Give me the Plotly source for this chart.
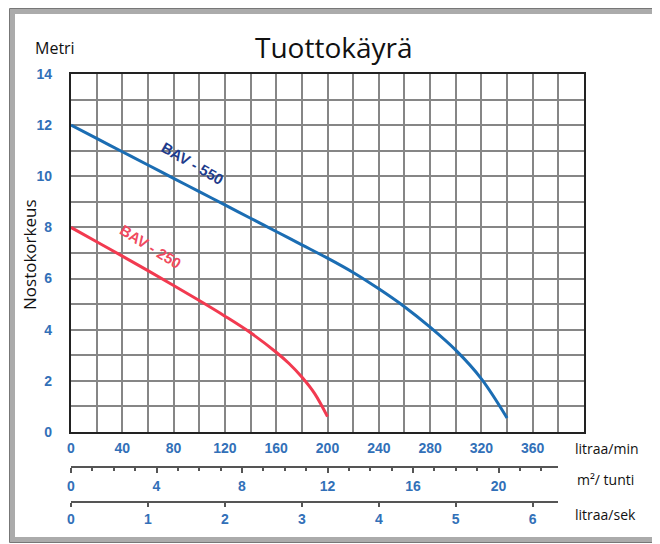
import plotly.graph_objects as go

# ---------------- data ----------------
FLOW_550 = [0, 20, 40, 60, 80, 100, 120, 140, 160, 180, 200, 220, 240, 260, 280, 300, 320, 340]  # litraa/min
HEAD_550 = [12.0, 11.48, 10.96, 10.44, 9.92, 9.40, 8.88, 8.36, 7.84, 7.32, 6.8, 6.24, 5.6, 4.9,
            4.1, 3.2, 2.08, 0.55]                                                                # metri
FLOW_250 = [0, 20, 40, 60, 80, 100, 120, 140, 160, 170, 180, 190, 200]
HEAD_250 = [8.0, 7.44, 6.88, 6.31, 5.73, 5.14, 4.53, 3.88, 3.12, 2.68, 2.15, 1.5, 0.6]

FLOW_RANGE = [0, 400]                       # litraa/min
HEAD_RANGE = [0, 14]                        # metri
FLOW_TICKS = [0, 40, 80, 120, 160, 200, 240, 280, 320, 360]
HEAD_TICKS = [0, 2, 4, 6, 8, 10, 12, 14]
M3H_TICKS = [0, 4, 8, 12, 16, 20]
LS_TICKS = [0, 1, 2, 3, 4, 5, 6]
SCALE_END_FLOW = 380                        # where the secondary scales end (l/min)
M3H_PER_LMIN = 60 / 1000                    # m3/h per l/min
LS_PER_LMIN = 1 / 60                        # l/s per l/min

TITLE = "Tuottokäyrä"
LABEL_550 = "BAV - 550"
LABEL_250 = "BAV - 250"

# ---------------- layout geometry ----------------
# the page body has an 8 px margin, so the figure is drawn from (8, 8)
OFF = 8
W, H = 660 - OFF, 544 - OFF
ML, MR, MT, MB = 71 - OFF, 76, 74 - OFF, 30
PW = W - ML - MR
PH = H - MT - MB


def px(xp):
    return (xp - OFF - ML) / PW


def py(yp):
    return (H - MB - (yp - OFF)) / PH


TICK_BLUE = "#3270b8"
tickfont = dict(family="Liberation Sans", size=14, color=TICK_BLUE, weight="bold")
label_font = dict(family="Open Sans", size=14, color="#111111")
GRID = "#868686"

fig = go.Figure()

fig.add_trace(go.Scatter(
    x=FLOW_550, y=HEAD_550, mode="lines",
    line=dict(color="#1b6db3", width=3, shape="spline", smoothing=1.0),
    hoverinfo="skip", showlegend=False))
fig.add_trace(go.Scatter(
    x=FLOW_250, y=HEAD_250, mode="lines",
    line=dict(color="#f23a50", width=3, shape="spline", smoothing=1.0),
    hoverinfo="skip", showlegend=False))

# invisible helper traces so the secondary scales are drawn
fig.add_trace(go.Scatter(
    x=[f * M3H_PER_LMIN for f in FLOW_550], y=HEAD_550, xaxis="x2", yaxis="y2",
    mode="markers", marker=dict(opacity=0), hoverinfo="skip", showlegend=False))
fig.add_trace(go.Scatter(
    x=[f * LS_PER_LMIN for f in FLOW_550], y=HEAD_550, xaxis="x3", yaxis="y2",
    mode="markers", marker=dict(opacity=0), hoverinfo="skip", showlegend=False))

main_y_bottom = py(432)
scale_dom_end = SCALE_END_FLOW / FLOW_RANGE[1]

fig.update_layout(
    width=W, height=H,
    margin=dict(l=ML, r=MR, t=MT, b=MB, pad=0, autoexpand=False),
    paper_bgcolor="white", plot_bgcolor="white",
    xaxis=dict(
        range=FLOW_RANGE, domain=[0, 1], anchor="y",
        tickmode="array", tickvals=FLOW_TICKS,
        showgrid=True, gridcolor=GRID, gridwidth=1.6,
        minor=dict(dtick=20, tick0=0, showgrid=True, gridcolor=GRID, gridwidth=1.6),
        showline=True, mirror=True, linecolor="#222222", linewidth=2.2,
        zeroline=False, ticks="", tickfont=tickfont, ticklabelstandoff=2,
    ),
    yaxis=dict(
        range=HEAD_RANGE, domain=[main_y_bottom, 1], anchor="x",
        tickmode="array", tickvals=HEAD_TICKS,
        showgrid=True, gridcolor=GRID, gridwidth=1.6,
        minor=dict(dtick=1, tick0=0, showgrid=True, gridcolor=GRID, gridwidth=1.6),
        showline=True, mirror=True, linecolor="#222222", linewidth=2.2,
        zeroline=False, ticks="", tickfont=tickfont, ticklabelstandoff=14,
    ),
    xaxis2=dict(
        range=[0, SCALE_END_FLOW * M3H_PER_LMIN], domain=[0, scale_dom_end],
        anchor="free", position=py(467),
        tickmode="array", tickvals=M3H_TICKS,
        ticks="outside", ticklen=5, tickwidth=2, tickcolor="#555555",
        minor=dict(dtick=1, tick0=0, ticks="outside", ticklen=3, tickwidth=1.5, tickcolor="#555555"),
        showline=True, linecolor="#555555", linewidth=2, showgrid=False, zeroline=False,
        tickfont=tickfont, ticklabelstandoff=1,
    ),
    xaxis3=dict(
        range=[0, SCALE_END_FLOW * LS_PER_LMIN], domain=[0, scale_dom_end],
        anchor="free", position=py(502),
        tickmode="array", tickvals=LS_TICKS,
        ticks="outside", ticklen=4, tickwidth=2, tickcolor="#555555",
        showline=True, linecolor="#555555", linewidth=2, showgrid=False, zeroline=False,
        tickfont=tickfont, ticklabelstandoff=0,
    ),
    yaxis2=dict(domain=[0, 0.01], visible=False, showgrid=False, range=HEAD_RANGE),
)

annotations = [
    dict(text=TITLE, x=px(334), y=py(47), font=dict(family="Open Sans", size=28, color="#111111")),
    dict(text="Metri", x=px(55), y=py(48), font=dict(family="Open Sans", size=16, color="#111111")),
    dict(text="Nostokorkeus", x=px(29), y=py(255), textangle=-90,
         font=dict(family="Open Sans", size=17, color="#111111")),
    dict(text="litraa/min", x=px(573), y=py(448), xanchor="left", font=label_font),
    dict(text="m²/ tunti", x=px(575), y=py(479), xanchor="left", font=label_font),
    dict(text="litraa/sek", x=px(573), y=py(515), xanchor="left", font=label_font),
]
for a in annotations:
    a.setdefault("xanchor", "center")
    fig.add_annotation(xref="paper", yref="paper", yanchor="middle", showarrow=False, **a)

fig.add_annotation(x=95, y=10.5, xref="x", yref="y", text=LABEL_550, textangle=30,
                   showarrow=False, font=dict(family="Liberation Sans", size=15,
                                              color="#1e3c8c", weight="bold"))
fig.add_annotation(x=62, y=7.25, xref="x", yref="y", text=LABEL_250, textangle=32,
                   showarrow=False, font=dict(family="Liberation Sans", size=15,
                                              color="#f04a60", weight="bold"))

# outer frame
fig.add_shape(type="rect", xref="paper", yref="paper",
              x0=px(12.5), y0=py(11.5), x1=px(720), y1=py(539.5),
              line=dict(color="#ababab", width=5), layer="below")
fig.add_shape(type="rect", xref="paper", yref="paper",
              x0=px(9.5), y0=py(8.5), x1=px(720), y1=py(542.5),
              line=dict(color="#777777", width=1), layer="below")

fig.write_html("out.html")
